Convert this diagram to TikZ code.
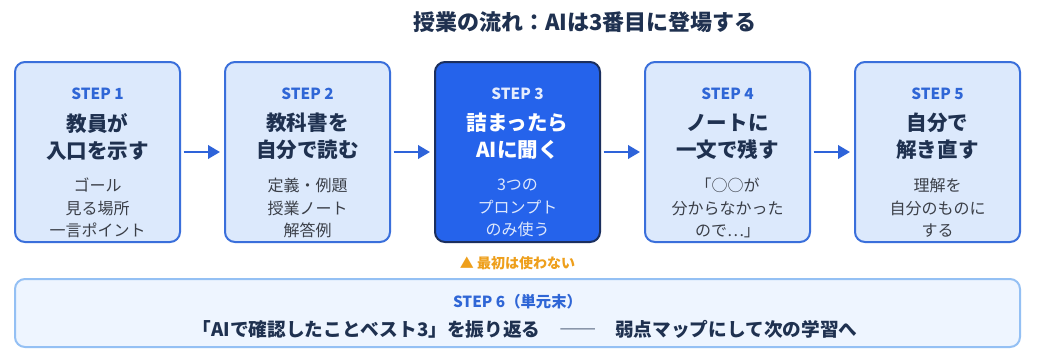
\documentclass[tikz,border=0pt]{standalone}
\usepackage{fontspec}
\setmainfont{Noto Sans CJK JP}
\usetikzlibrary{arrows.meta}
\definecolor{navy}{HTML}{1F3150}
\definecolor{stepblue}{HTML}{2F66D6}
\definecolor{boxfill}{HTML}{DCE9FC}
\definecolor{boxline}{HTML}{3A6FDB}
\definecolor{hifill}{HTML}{2563EB}
\definecolor{hiline}{HTML}{1B2F5E}
\definecolor{subgray}{HTML}{3B3F48}
\definecolor{botfill}{HTML}{EEF5FF}
\definecolor{botline}{HTML}{94C0F4}
\definecolor{warn}{HTML}{EE9F1B}
\definecolor{arrowblue}{HTML}{2E63D9}
\tikzset{
  stepbox/.style={draw=boxline, fill=boxfill, line width=1.5pt, rounded corners=7.5pt, minimum width=123.75pt, minimum height=135pt, inner sep=0pt},
  hibox/.style={stepbox, draw=hiline, fill=hifill},
  steplabel/.style={font=\fontsize{11.5}{13}\selectfont\bfseries, text=stepblue, inner sep=0pt},
  steptitle/.style={font=\fontsize{15.4}{20.25}\selectfont\bfseries, text=navy, align=center, inner sep=0pt},
  stepsub/.style={font=\fontsize{12}{16.9}\selectfont, text=subgray, align=center, inner sep=0pt},
  flow/.style={draw=arrowblue, line width=2pt, -{Triangle[length=9pt,width=10pt]}}
}
\begin{document}
\begin{tikzpicture}[x=0.75pt,y=-0.75pt]
\useasboundingbox (0,0) rectangle (1046,361);
\fill[white] (0,0) rectangle (1046,361);
\node[font=\fontsize{16.5}{20}\selectfont\bfseries, text=navy, inner sep=0pt] (title) at (585,22) {授業の流れ：AIは3番目に登場する};

% boxes
\node[stepbox] (b1) at (97.5,152) {};
\node[stepbox] (b2) at (307.5,152) {};
\node[hibox] (b3) at (517.5,152) {};
\node[stepbox] (b4) at (727.5,152) {};
\node[stepbox] (b5) at (937.5,152) {};

\node[steplabel] (l1) at (97.5,94) {STEP 1};
\node[steplabel] (l2) at (307.5,94) {STEP 2};
\node[steplabel, text=white!88!hifill] (l3) at (517.5,94) {STEP 3};
\node[steplabel] (l4) at (727.5,94) {STEP 4};
\node[steplabel] (l5) at (937.5,94) {STEP 5};

\node[steptitle] (t1) at (97.5,136.5) {教員が\\入口を示す};
\node[steptitle] (t2) at (307.5,136.5) {教科書を\\自分で読む};
\node[steptitle, text=white] (t3) at (517.5,136.5) {詰まったら\\AIに聞く};
\node[steptitle] (t4) at (727.5,136.5) {ノートに\\一文で残す};
\node[steptitle] (t5) at (937.5,136.5) {自分で\\解き直す};

\node[stepsub] (s1) at (97.5,208) {ゴール\\見る場所\\一言ポイント};
\node[stepsub] (s2) at (307.5,208) {定義・例題\\授業ノート\\解答例};
\node[stepsub, text=white!85!hifill] (s3) at (517.5,208) {3つの\\プロンプト\\のみ使う};
\node[stepsub] (s4) at (727.5,208) {「○○が\\分からなかった\\ので⋯」};
\node[stepsub] (s5) at (937.5,208) {理解を\\自分のものに\\する};

\draw[flow] ([xshift=2pt]b1.east) -- ([xshift=-3pt]b2.west);
\draw[flow] ([xshift=2pt]b2.east) -- ([xshift=-3pt]b3.west);
\draw[flow] ([xshift=2pt]b3.east) -- ([xshift=-3pt]b4.west);
\draw[flow] ([xshift=2pt]b4.east) -- ([xshift=-3pt]b5.west);

\node[font=\fontsize{10.5}{12}\selectfont\bfseries, text=warn, inner sep=0pt] (warn) at (517.5,263) {▲ 最初は使わない};

\node[draw=botline, fill=botfill, line width=1.5pt, rounded corners=7.5pt, minimum width=753.75pt, minimum height=51pt, inner sep=0pt] (b6) at (517.5,313) {};
\node[steplabel] (l6) at (517.5,302) {STEP 6（単元末）};
\node[font=\fontsize{14}{16}\selectfont\bfseries, text=navy, inner sep=0pt] (t6) at (525,329) {「AIで確認したことベスト3」を振り返る\quad{\mdseries ――}\quad 弱点マップにして次の学習へ};
\end{tikzpicture}
\end{document}
